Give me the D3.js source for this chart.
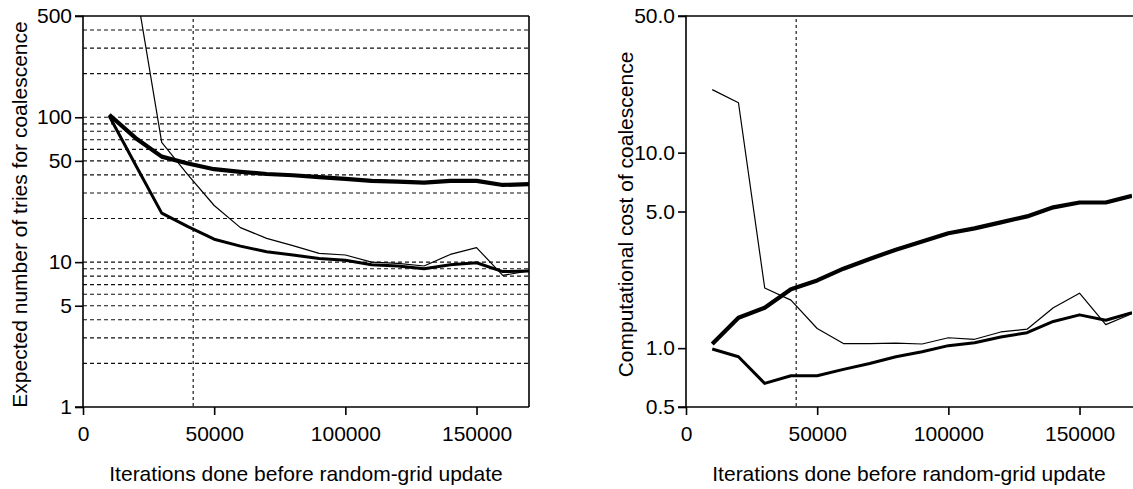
<!DOCTYPE html>
<html>
<head>
<meta charset="utf-8">
<script src="https://cdn.jsdelivr.net/npm/d3@7"></script>
<style>
  html, body { margin: 0; padding: 0; background: #fff; }
  svg { display: block; font-family: "Liberation Sans", Arial, Helvetica, sans-serif; }
</style>
</head>
<body>
<svg id="chart" width="1133" height="489"></svg>
<script>
// Iterations done before each random-grid update
const iterations = [10000, 20000, 30000, 40000, 50000, 60000, 70000, 80000, 90000,
  100000, 110000, 120000, 130000, 140000, 150000, 160000, 170000];

// Left panel: expected number of tries for coalescence
const triesThick = [104, 72, 53.5, 48, 43.8, 42, 40.6, 39.8, 38.6, 37.6, 36.4, 36, 35.4, 36.4, 36.4, 34.1, 34.5];
const triesMedium = [102, 47, 21.8, 17.6, 14.4, 12.9, 11.8, 11.2, 10.6, 10.3, 9.6, 9.4, 9.0, 9.6, 9.9, 8.6, 8.7];
const triesThin = [null, 820, 67, 40, 24.6, 17.3, 14.6, 13, 11.5, 11.2, 10.0, 9.8, 9.4, 11.3, 12.6, 8.1, 8.7];

// Right panel: computational cost of coalescence
const costThick = [1.05, 1.43, 1.61, 2.0, 2.22, 2.55, 2.86, 3.19, 3.51, 3.87, 4.10, 4.40, 4.72, 5.25, 5.56, 5.56, 6.02];
const costMedium = [0.99, 0.903, 0.66, 0.723, 0.723, 0.779, 0.835, 0.903, 0.958, 1.03, 1.065, 1.14, 1.20, 1.37, 1.48, 1.39, 1.52];
const costThin = [21.0, 18.0, 2.03, 1.76, 1.26, 1.055, 1.055, 1.06, 1.05, 1.13, 1.11, 1.21, 1.25, 1.61, 1.91, 1.32, 1.50];

// Axis ticks and reference marks
const xTicks = [0, 50000, 100000, 150000];
const leftYTicks = [1, 5, 10, 50, 100, 500];
const leftGrid = [2, 3, 4, 5, 6, 7, 8, 9, 10, 20, 30, 40, 50, 60, 70, 80, 90, 100, 200, 300, 400];
const rightYTicks = [0.5, 1, 5, 10, 50];
const markerIteration = 42000;

const xTitle = "Iterations done before random-grid update";
const leftYTitle = "Expected number of tries for coalescence";
const rightYTitle = "Computational cost of coalescence";

const svg = d3.select("#chart");
const FONT = 21;
const TOP = 16, BOTTOM = 407, WIDTH = 446;

// stroke widths: thickest, medium, thin
const strokeWidths = [4.2, 3.0, 1.2];

function panel(opts) {
  const g = svg.append("g");
  const x = d3.scaleLinear().domain([0, 170000]).range([opts.x0, opts.x0 + WIDTH]);
  const y = d3.scaleLog().domain(opts.yDomain).range([BOTTOM, TOP]);
  const xEnd = opts.rightBorder ? x(170000) : 1133;

  const clipId = "clip-" + opts.id;
  svg.append("defs").append("clipPath").attr("id", clipId)
    .append("rect").attr("x", opts.x0).attr("y", TOP)
    .attr("width", WIDTH).attr("height", BOTTOM - TOP);

  // horizontal dashed grid
  if (opts.grid) {
    g.append("g").selectAll("line").data(opts.grid).join("line")
      .attr("x1", x(0)).attr("x2", x(170000))
      .attr("y1", d => y(d)).attr("y2", d => y(d))
      .attr("stroke", "#111").attr("stroke-width", 1.15)
      .attr("stroke-dasharray", "4,3");
  }

  // vertical dashed marker
  g.append("line")
    .attr("x1", x(markerIteration)).attr("x2", x(markerIteration))
    .attr("y1", TOP + 3).attr("y2", BOTTOM)
    .attr("stroke", "#111").attr("stroke-width", 1.15)
    .attr("stroke-dasharray", "3,3");

  // series
  const line = d3.line()
    .defined(d => d[1] != null)
    .x(d => x(d[0])).y(d => y(d[1]));
  const lines = g.append("g").attr("clip-path", `url(#${clipId})`);
  opts.series.forEach((vals, i) => {
    lines.append("path")
      .datum(iterations.map((it, k) => [it, vals[k]]))
      .attr("d", line)
      .attr("fill", "none")
      .attr("stroke", "#000")
      .attr("stroke-width", strokeWidths[i])
      .attr("stroke-linejoin", "round");
  });

  // frame
  g.append("line").attr("x1", x(0)).attr("x2", xEnd)
    .attr("y1", TOP).attr("y2", TOP).attr("stroke", "#000").attr("stroke-width", 1.6);
  if (opts.rightBorder) {
    g.append("line").attr("x1", x(170000)).attr("x2", x(170000))
      .attr("y1", TOP).attr("y2", BOTTOM).attr("stroke", "#000").attr("stroke-width", 1.6);
  }

  // axes
  const yAxis = d3.axisLeft(y).tickValues(opts.yTicks).tickFormat(opts.yFormat)
    .tickSize(8).tickPadding(3);
  const ya = g.append("g").attr("transform", `translate(${opts.x0},0)`).call(yAxis);
  const xAxis = d3.axisBottom(x).tickValues(xTicks).tickFormat(d3.format("d"))
    .tickSize(8).tickPadding(11);
  const xa = g.append("g").attr("transform", `translate(0,${BOTTOM})`).call(xAxis);
  [ya, xa].forEach(a => {
    a.select(".domain").attr("stroke", "#000").attr("stroke-width", 1.6);
    a.selectAll(".tick line").attr("stroke", "#000").attr("stroke-width", 1.6);
    a.selectAll("text").attr("font-size", FONT).attr("fill", "#000")
      .attr("font-family", "Liberation Sans, Arial, sans-serif");
  });
  ya.select(".domain").attr("d", `M-8,${BOTTOM}H0V${TOP}H-8`);
  xa.select(".domain").attr("d", `M${x(0)},0H${xEnd}`);

  // titles
  g.append("text")
    .attr("x", x(85000)).attr("y", 481)
    .attr("text-anchor", "middle").attr("font-size", FONT)
    .text(xTitle);
  g.append("text")
    .attr("transform", `translate(${opts.yTitleX},${(TOP + BOTTOM) / 2 + 3}) rotate(-90)`)
    .attr("text-anchor", "middle").attr("font-size", FONT)
    .text(opts.yTitle);
}

panel({
  id: "tries", x0: 83, yDomain: [1, 500],
  yTicks: leftYTicks, yFormat: d3.format("d"),
  grid: leftGrid, rightBorder: true,
  series: [triesThick, triesMedium, triesThin],
  yTitle: leftYTitle, yTitleX: 27
});

panel({
  id: "cost", x0: 686, yDomain: [0.5, 50],
  yTicks: rightYTicks, yFormat: d3.format(".1f"),
  grid: null, rightBorder: false,
  series: [costThick, costMedium, costThin],
  yTitle: rightYTitle, yTitleX: 633
});
</script>
</body>
</html>
